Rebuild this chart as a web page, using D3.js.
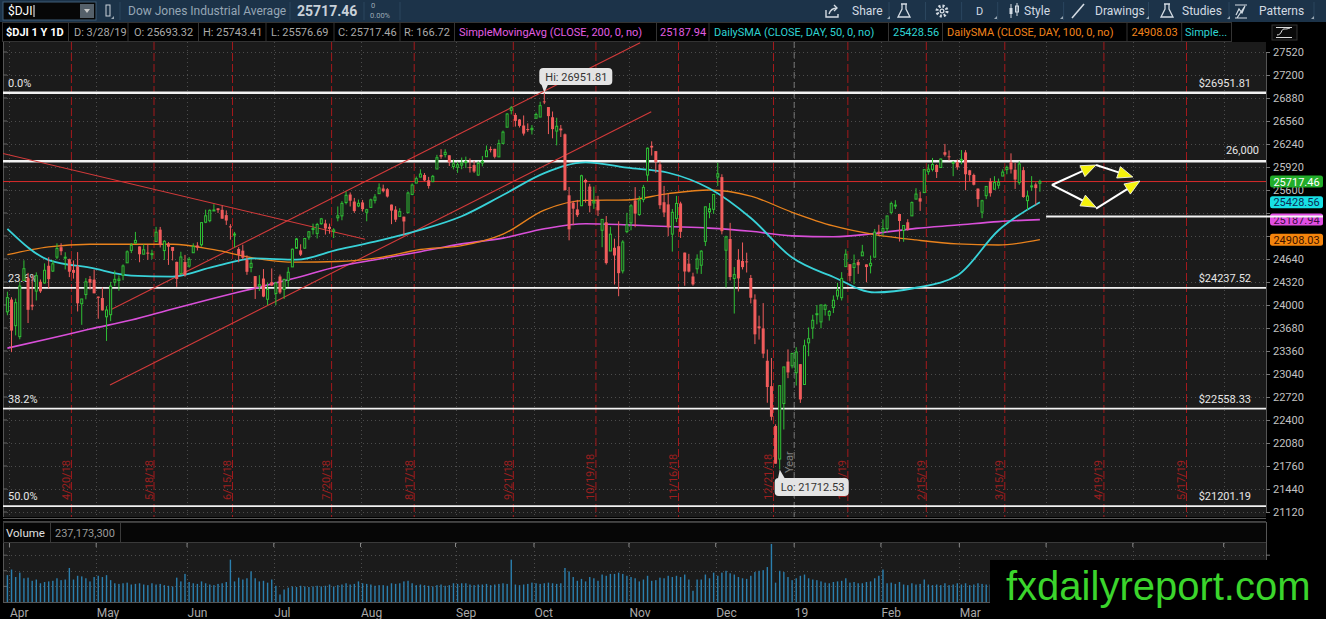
<!DOCTYPE html>
<html>
<head>
  <meta charset="UTF-8">
  <style>
    body { margin: 0; background: #000; }
    svg { display: block; font-family: Roboto, "Open Sans", sans-serif; }
  </style>
</head>
<body>
<svg id="chart" width="1326" height="619"></svg>
<script src="https://d3js.org/d3.v7.min.js"></script>
<script>

// daily bars, first one is 3/29/18, last one 3/28/19 : [open, high, low, close]
const candles = [
  [23905,24185,23858,24103],
  // Apr
  [24076,24108,23344,23644],[23712,24090,23577,24033],[23560,24323,23523,24264],[24342,24622,24342,24505],
  [24371,24447,23749,23933],[24003,24406,23928,23979],[24193,24454,24063,24408],[24323,24355,24168,24190],
  [24307,24579,24298,24483],[24546,24665,24231,24360],[24472,24625,24460,24573],[24666,24858,24637,24787],
  [24804,24859,24693,24748],[24653,24734,24495,24665],[24637,24645,24388,24463],[24488,24619,24367,24448],
  [24539,24736,23910,24024],[24018,24085,23724,24084],[24145,24374,24079,24323],[24361,24403,24216,24311],
  [24353,24491,24163,24163],
  // May
  [24117,24117,23809,24099],[24097,24243,23922,23925],[23836,23984,23500,23930],[23865,24322,23775,24263],
  [24317,24479,24263,24357],[24341,24412,24198,24361],[24414,24565,24345,24543],[24587,24760,24587,24740],
  [24760,24862,24722,24831],[24865,25017,24851,24899],[24815,24815,24595,24706],[24707,24844,24707,24768],
  [24729,24849,24629,24714],[24707,24769,24638,24715],[24883,25087,24883,25013],[25048,25086,24801,24834],
  [24757,24903,24626,24886],[24855,24875,24558,24811],[24807,24807,24620,24753],[24600,24603,24252,24362],
  [24437,24741,24437,24668],[24598,24697,24394,24416],
  // Jun
  [24542,24667,24520,24635],[24727,24858,24727,24813],[24828,24874,24758,24799],[24838,25147,24813,25146],
  [25152,25326,25139,25241],[25173,25331,25151,25317],[25318,25402,25317,25322],[25345,25346,25281,25320],
  [25324,25382,25200,25201],[25250,25316,25114,25175],[25094,25125,24910,25090],[24985,25017,24802,24987],
  [24780,24805,24595,24700],[24756,24839,24636,24657],[24627,24692,24420,24462],[24522,24635,24455,24580],
  [24402,24402,24084,24252],[24262,24415,24194,24283],[24368,24500,24108,24117],[24080,24310,23997,24216],
  [24318,24509,24263,24271],
  // Jul
  [24161,24323,23997,24307],[24397,24424,24152,24174],[24217,24366,24085,24356],[24341,24526,24252,24456],
  [24530,24786,24530,24776],[24789,24933,24789,24919],[24760,24845,24681,24700],[24791,24933,24780,24925],
  [24946,25027,24908,25019],[25059,25132,24981,25064],[24996,25143,24926,25120],[25131,25211,25117,25199],
  [25135,25186,24980,25064],[25088,25132,24992,25058],[25024,25069,24932,25044],[25213,25371,25164,25241],
  [25240,25445,25179,25414],[25426,25580,25400,25527],[25537,25566,25371,25451],[25439,25490,25282,25307],
  [25378,25467,25361,25415],
  // Aug
  [25426,25462,25300,25333],[25290,25339,25165,25326],[25358,25480,25354,25463],[25456,25543,25413,25502],
  [25549,25692,25548,25629],[25621,25675,25566,25583],[25611,25627,25495,25509],[25397,25397,25125,25313],
  [25327,25375,25154,25187],[25233,25347,25228,25299],[25229,25229,24965,25162],[25283,25580,25283,25558],
  [25538,25692,25528,25669],[25696,25787,25696,25758],[25780,25888,25778,25822],[25809,25836,25723,25733],
  [25735,25783,25620,25656],[25716,25810,25716,25790],[25892,26089,25892,26049],[26087,26168,26034,26064],
  [26093,26167,26053,26124],[26083,26083,25934,25986],[25926,26023,25887,25964],
  // Sep
  [25916,25993,25838,25952],[25946,26052,25889,25974],[25988,26064,25905,25995],[25919,26039,25843,25916],
  [25947,26006,25838,25857],[25808,25999,25797,25971],[25975,26073,25929,25998],[26063,26219,26063,26145],
  [26169,26205,26123,26154],[26173,26173,26040,26062],[26061,26300,26061,26246],[26249,26427,26236,26405],
  [26474,26671,26474,26657],[26708,26769,26652,26743],[26644,26669,26483,26562],[26581,26588,26469,26492],
  [26497,26637,26357,26385],[26448,26527,26409,26440],[26439,26503,26372,26458],
  // Oct
  [26598,26677,26598,26651],[26615,26828,26615,26774],[26833,26951.81,26795,26828],[26754,26754,26378,26628],
  [26612,26692,26319,26447],[26420,26605,26221,26487],[26455,26505,26337,26430],[26375,26386,25589,25599],
  [25526,25642,24900,25053],[25422,25450,25110,25340],[25330,25462,25224,25250],[25381,25812,25381,25798],
  [25739,25758,25423,25706],[25648,25685,25290,25380],[25420,25647,25337,25444],[25464,25519,25238,25317],
  [25040,25170,24804,25191],[25151,25238,24563,24583],[24751,25089,24751,24985],[24796,24923,24285,24689],
  [24818,25165,24122,24443],[24475,24902,24439,24875],[25021,25283,24999,25116],
  // Nov
  [25142,25403,25040,25380],[25455,25640,25082,25271],[25259,25515,25239,25462],[25469,25671,25430,25636],
  [25808,26192,25718,26181],[26214,26277,26080,26191],[26141,26141,25838,25989],[25957,25996,25337,25388],
  [25430,25657,25223,25287],[25400,25551,24957,25081],[24986,25336,24743,25289],[25205,25518,25153,25413],
  [25413,25437,24933,25018],[24729,24729,24268,24466],[24575,24711,24453,24465],[24397,24449,24268,24286],
  [24504,24705,24436,24640],[24553,24763,24432,24749],[24885,25367,24820,25366],[25296,25419,25207,25339],
  [25331,25544,25268,25538],
  // Dec
  [25780,25980,25656,25826],[25779,25819,24983,25027],[24762,24964,24243,24947],[24918,25143,24342,24389],
  [24369,24528,23881,24423],[24629,24777,24188,24370],[24613,24870,24495,24527],[24607,24728,24452,24597],
  [24376,24418,24022,24101],[24077,24148,23456,23592],[23703,23852,23519,23676],[23675,24026,23261,23324],
  [23224,23381,22640,22859],[22871,23263,22397,22445],[22317,22340,21792,21792],[21857,22879,21712.53,22878],
  [22629,23139,22268,23138],[23213,23382,22982,23062],[23154,23333,23118,23327],
  // Jan
  [23058,23413,22879,23346],[23177,23177,22638,22686],[22894,23518,22894,23433],[23474,23687,23287,23531],
  [23680,23864,23529,23787],[23878,24000,23731,23879],[23765,24002,23676,24001],[23940,24016,23853,23996],
  [23857,23930,23783,23910],[23966,24133,23888,24066],[24125,24309,24073,24207],[24102,24457,24063,24370],
  [24534,24775,24534,24706],[24568,24568,24327,24404],[24522,24702,24288,24575],[24597,24633,24433,24553],
  [24684,24837,24684,24737],[24565,24565,24316,24528],[24546,24688,24440,24580],[24666,25057,24666,25014],
  [25021,25116,24957,24999],
  // Feb
  [25025,25191,24966,25064],[25062,25240,25006,25239],[25289,25439,25261,25411],[25387,25458,25335,25390],
  [25266,25266,24883,25169],[25036,25107,24880,25106],[25151,25194,25033,25053],[25240,25441,25240,25425],
  [25473,25625,25473,25543],[25485,25577,25309,25439],[25564,25883,25564,25883],[25855,25957,25812,25891],
  [25887,26046,25859,25954],[25948,25958,25767,25850],[25913,26039,25913,26031],[26126,26241,26066,26091],
  [26069,26150,26011,26057],[25972,26000,25792,25985],[25989,26023,25881,25916],
  // Mar
  [26020,26156,25958,26026],[26123,26155,25597,25819],[25874,25880,25722,25807],[25809,25828,25664,25673],
  [25620,25620,25365,25473],[25292,25464,25208,25450],[25521,25653,25473,25650],[25721,25764,25508,25555],
  [25611,25792,25611,25703],[25666,25759,25619,25709],[25794,25888,25794,25849],[25884,25940,25819,25914],
  [25986,26110,25829,25887],[25882,25977,25615,25745],[25702,25999,25672,25962],[25876,25922,25493,25502],
  [25452,25586,25323,25516],[25650,25793,25589,25657],[25678,25704,25388,25626],[25693.32,25743.41,25576.69,25717.46]
];

// daily volume in millions, same bars
const volumes = [
  430,
  520,400,470,380,390,340,360,300,320,330,340,380,350,360,545,360,420,410,380,330,400,
  420,400,430,350,300,290,300,310,280,290,300,280,270,300,280,290,270,260,250,390,330,450,
  320,300,290,330,300,280,270,290,300,320,678,330,390,360,380,491,380,330,340,310,360,
  260,120,200,230,250,240,260,250,240,250,260,250,260,280,250,270,280,300,280,290,330,
  300,290,280,260,270,270,260,300,290,300,330,340,300,270,280,270,260,250,270,280,260,270,300,
  290,300,300,280,270,280,280,290,270,280,290,300,290,678,280,270,280,290,310,
  300,290,300,310,300,290,300,545,490,400,340,370,330,400,380,340,440,420,450,450,470,450,420,
  400,380,330,360,420,340,350,390,380,420,400,420,400,440,360,180,360,360,440,380,470,
  420,470,500,460,440,400,380,370,420,480,500,510,560,930,310,500,480,400,350,
  380,420,440,380,360,350,330,310,300,320,330,340,380,310,320,300,300,320,330,380,420,
  520,300,310,290,320,280,270,300,280,290,360,280,270,280,270,300,270,280,300,
  280,300,270,280,300,290,280,280,290,270,520,280,300,310,290,330,280,260,270,237.17
];

// moving averages read every 10 bars
const smaBars = [0,10,20,30,40,50,60,70,80,90,100,110,120,130,140,150,160,170,180,190,200,210,220,230,240,250];
const sma50  = [25060,24625,24520,24410,24395,24535,24648,24630,24770,24895,25044,25235,25530,25835,25985,25910,25840,25620,25210,24660,24390,24175,24240,24410,25040,25428.56];
const sma100 = [24700,24810,24845,24845,24845,24770,24650,24596,24605,24660,24772,24825,24985,25320,25455,25461,25550,25600,25515,25290,25100,24980,24905,24850,24835,24908.03];
const sma200 = [23400,23530,23665,23790,23945,24095,24235,24380,24535,24640,24742,24850,24930,25060,25130,25115,25092,25070,25025,24962,24950,24995,25066,25112,25160,25187.94];

const monthLabels = ["Apr","May","Jun","Jul","Aug","Sep","Oct","Nov","Dec","19","Feb","Mar","Apr","May","Jun"];
const monthBars   = [1,22,44,65,86,109,128,151,172,191,212,231,252,273,295];
const expiryLabels = ["4/20/18","5/18/18","6/15/18","7/20/18","8/17/18","9/21/18","10/19/18","11/16/18","12/21/18","1/18/19","2/15/19","3/15/19","4/19/19","5/17/19"];
const expiryBars   = [15,35,54,78,98,122,142,162,185,203,222,241,265,285];
const yearBar = 191;

const priceTicks = [21120,21440,21760,22080,22400,22720,23040,23360,23680,24000,24320,24640,24960,25280,25600,25920,26240,26560,26880,27200,27520];
const volTicks = [250,500,750];

const fibLevels = [26951.81, 24237.52, 22558.33, 21201.19];
const fibNames  = ["0.0%","23.6%","38.2%","50.0%"];
const levelLine = 26000;
const shortLine = 25230;

// hand drawn lines: [bar1, price1, bar2, price2]
const trendLines = [
  [-1.07, 26108, 86.6, 24914],
  [25.25, 23940, 153.2, 27648],
  [24.84, 22887, 155.9, 26689]
];
// arrows: [from bar, from price, to bar, to price]
const arrows = [
  [252.9, 25670, 263.6, 25948],
  [252.9, 25670, 263.6, 25360],
  [263.6, 25948, 272.5, 25781],
  [263.6, 25340, 274.2, 25725]
];

// ---------------------------------------------------------------

const svg = d3.select("#chart");
const plotL = 3, plotR = 1266, plotT = 42, plotB = 517;
const volT = 543, volB = 602;

const x = d3.scaleLinear().domain([0, 250]).range([7.4, 1039.9]);
const barW = x(1) - x(0);
const y = d3.scaleLinear().domain([21120, 27520]).range([512, 52]);
const yv = d3.scaleLinear().domain([0, 945]).range([volB, volT]);

const colUp = "#2fbf35", colDn = "#f05c5c", plotBg = "#1b1b1b";

svg.append("rect").attr("width", 1326).attr("height", 619).attr("fill", "#000");

// ---- top tool bar
const tb = svg.append("g");
tb.append("rect").attr("width", 1326).attr("height", 22).attr("fill", "#1c3349");
tb.append("rect").attr("x", 3).attr("y", 2).attr("width", 93).attr("height", 18).attr("fill", "#070707").attr("stroke", "#3f5d77");
tb.append("rect").attr("x", 80).attr("y", 4).attr("width", 14).attr("height", 14).attr("fill", "#55606a");
tb.append("path").attr("d", "M84,9 h6 l-3,4 z").attr("fill", "#c8c8c8");
tb.append("text").attr("x", 8).attr("y", 15).attr("fill", "#fff").attr("font-size", 12).text("$DJI");
tb.append("line").attr("x1", 34).attr("x2", 34).attr("y1", 5).attr("y2", 17).attr("stroke", "#fff");
tb.append("rect").attr("x", 106).attr("y", 5).attr("width", 4).attr("height", 11).attr("fill", "none").attr("stroke", "#c9d2da");
tb.append("path").attr("d", "M111,19 h3 v-3 z").attr("fill", "#9aa8b4");
tb.append("text").attr("x", 128).attr("y", 15).attr("fill", "#96a6b5").attr("font-size", 12).text("Dow Jones Industrial Average");
tb.append("text").attr("x", 297).attr("y", 16).attr("fill", "#c9d1d9").attr("font-size", 14).attr("font-weight", "bold").text("25717.46");
tb.append("text").attr("x", 371).attr("y", 8).attr("fill", "#9aa8b4").attr("font-size", 7.5).text("0");
tb.append("text").attr("x", 370).attr("y", 18).attr("fill", "#9aa8b4").attr("font-size", 7.5).text("0.00%");
[120, 290, 364, 400].forEach(v => tb.append("line").attr("x1", v).attr("x2", v).attr("y1", 2).attr("y2", 20).attr("stroke", "#2b465e"));

const tbText = "#d3dbe3";
// share
tb.append("path").attr("d", "M826,10 v7 h12 v-3 M829,14 q2,-6 8,-6 M834,5 l3,3 l-3,3").attr("fill", "none").attr("stroke", tbText).attr("stroke-width", 1.4);
tb.append("text").attr("x", 852).attr("y", 15).attr("fill", tbText).attr("font-size", 12).text("Share");
// flask
const flask = cx => `M${cx - 3},4 h6 M${cx - 2},4 v5 l-4,8 h12 l-4,-8 v-5`;
tb.append("path").attr("d", flask(904)).attr("fill", "none").attr("stroke", tbText).attr("stroke-width", 1.3);
// gear
tb.append("circle").attr("cx", 942).attr("cy", 11).attr("r", 5).attr("fill", "none").attr("stroke", tbText).attr("stroke-width", 3).attr("stroke-dasharray", "2,1.9");
tb.append("circle").attr("cx", 942).attr("cy", 11).attr("r", 2.5).attr("fill", tbText);
tb.append("circle").attr("cx", 942).attr("cy", 11).attr("r", 1.2).attr("fill", "#1c3349");
tb.append("text").attr("x", 976).attr("y", 15).attr("fill", tbText).attr("font-size", 11).text("D");
// style
tb.append("path").attr("d", "M1011,4 v14 M1017,3 v13").attr("stroke", tbText).attr("stroke-width", 1);
tb.append("rect").attr("x", 1009.5).attr("y", 8).attr("width", 3).attr("height", 6).attr("fill", tbText);
tb.append("rect").attr("x", 1015.5).attr("y", 6).attr("width", 3).attr("height", 6).attr("fill", "none").attr("stroke", tbText);
tb.append("text").attr("x", 1024).attr("y", 15).attr("fill", tbText).attr("font-size", 12).text("Style");
// drawings
tb.append("line").attr("x1", 1072).attr("y1", 18).attr("x2", 1084).attr("y2", 4).attr("stroke", tbText).attr("stroke-width", 1.6);
tb.append("text").attr("x", 1095).attr("y", 15).attr("fill", tbText).attr("font-size", 12).text("Drawings");
// studies
tb.append("path").attr("d", flask(1167)).attr("fill", "none").attr("stroke", tbText).attr("stroke-width", 1.3);
tb.append("text").attr("x", 1182).attr("y", 15).attr("fill", tbText).attr("font-size", 12).text("Studies");
// patterns
tb.append("path").attr("d", "M1235,5 h12 M1235,18 h12 M1236,15 l3,-6 l3,4 l3,-7 M1237,18 l8,-12").attr("fill", "none").attr("stroke", tbText).attr("stroke-width", 1.2);
tb.append("text").attr("x", 1259).attr("y", 15).attr("fill", tbText).attr("font-size", 12).text("Patterns");
[889, 925.5, 961.6, 997.7, 1063.6, 1148.5, 1229, 1314].forEach(v =>
  tb.append("line").attr("x1", v).attr("x2", v).attr("y1", 2).attr("y2", 20).attr("stroke", "#2b465e"));
[887, 994, 1060, 1146, 1227, 1311].forEach(v =>
  tb.append("path").attr("d", `M${v},19 h3 v-3 z`).attr("fill", "#9aa8b4"));

// ---- study header row
const hr = svg.append("g");
hr.append("rect").attr("x", 0).attr("y", 22).attr("width", 1326).attr("height", 20).attr("fill", "#000");
hr.append("rect").attr("x", 2.5).attr("y", 22.5).attr("width", 1229).attr("height", 19).attr("fill", "none").attr("stroke", "#333");
const cells = [
  [6, "$DJI 1 Y 1D", "#fff", true],
  [74, "D: 3/28/19", "#a9a9a9"],
  [134, "O: 25693.32", "#a9a9a9"],
  [203, "H: 25743.41", "#a9a9a9"],
  [271, "L: 25576.69", "#a9a9a9"],
  [338, "C: 25717.46", "#a9a9a9"],
  [404, "R: 166.72", "#a9a9a9"],
  [459, "SimpleMovingAvg (CLOSE, 200, 0, no)", "#e25ee2"],
  [660, "25187.94", "#e25ee2"],
  [714, "DailySMA (CLOSE, DAY, 50, 0, no)", "#2fd3d3"],
  [893, "25428.56", "#2fd3d3"],
  [947, "DailySMA (CLOSE, DAY, 100, 0, no)", "#f0841c"],
  [1131.5, "24908.03", "#f0841c"],
  [1185, "Simple...", "#2fd3d3"]
];
cells.forEach(c => hr.append("text").attr("x", c[0]).attr("y", 36).attr("fill", c[2])
  .attr("font-size", 11).attr("font-weight", c[3] ? "bold" : null).text(c[1]));
[68.5, 128, 198.5, 266, 334, 400, 454.5, 656.5, 709, 888.5, 942.5, 1127, 1181.7].forEach(v =>
  hr.append("line").attr("x1", v).attr("x2", v).attr("y1", 23).attr("y2", 41).attr("stroke", "#333"));
hr.append("rect").attr("x", 1272).attr("y", 25).attr("width", 25).attr("height", 15).attr("fill", "#0a0a0a").attr("stroke", "#333");
hr.append("path").attr("d", "M1276,27.5 h16 M1276,37.5 h16 M1277,35 c5,0 4,-6 7,-6 s3,0 6,-1").attr("fill", "none").attr("stroke", "#ddd").attr("stroke-width", 1);

// ---- price pane
const pane = svg.append("g");
pane.append("rect").attr("x", plotL).attr("y", plotT).attr("width", plotR - plotL).attr("height", plotB - plotT).attr("fill", plotBg);
svg.append("defs").append("clipPath").attr("id", "clip")
  .append("rect").attr("x", plotL).attr("y", plotT).attr("width", plotR - plotL).attr("height", plotB - plotT);

// grid
const grid = pane.append("g").attr("stroke", "#4c4c4c").attr("stroke-dasharray", "1,3").attr("shape-rendering", "crispEdges");
grid.selectAll(".hg").data(priceTicks).join("line")
  .attr("x1", plotL).attr("x2", plotR).attr("y1", d => Math.round(y(d)) + 0.5).attr("y2", d => Math.round(y(d)) + 0.5);
grid.selectAll(".vg").data(monthBars).join("line")
  .attr("x1", d => Math.round(x(d) - barW / 2) + 0.5).attr("x2", d => Math.round(x(d) - barW / 2) + 0.5)
  .attr("y1", plotT).attr("y2", plotB);
// left edge ticks
pane.append("line").attr("x1", plotL + 0.5).attr("x2", plotL + 0.5).attr("y1", plotT).attr("y2", plotB).attr("stroke", "#555");
pane.selectAll(".lt").data(priceTicks).join("line")
  .attr("x1", plotL).attr("x2", plotL + 4).attr("y1", d => y(d)).attr("y2", d => y(d)).attr("stroke", "#666");

// expiration lines
const exp = pane.append("g");
exp.selectAll("line").data(expiryBars).join("line")
  .attr("x1", d => x(d) + barW / 2).attr("x2", d => x(d) + barW / 2)
  .attr("y1", plotT).attr("y2", plotB)
  .attr("stroke", "#a3191c").attr("stroke-dasharray", "8,3");
exp.selectAll("text").data(expiryBars).join("text")
  .attr("transform", d => `translate(${x(d) + barW / 2 - 1.5},500) rotate(-90)`)
  .attr("fill", "#9c1f1f").attr("font-size", 11)
  .text((d, i) => expiryLabels[i]);

// year line
const yx = x(yearBar) - barW / 2;
pane.append("line").attr("x1", yx).attr("x2", yx).attr("y1", plotT).attr("y2", plotB)
  .attr("stroke", "#777").attr("stroke-dasharray", "6,4");
pane.append("text").attr("transform", `translate(${yx - 1.5},473) rotate(-90)`)
  .attr("fill", "#7d7d7d").attr("font-size", 11).text("Year");

// fib + level lines
const lv = pane.append("g");
fibLevels.forEach((p, i) => {
  lv.append("line").attr("x1", plotL).attr("x2", plotR).attr("y1", y(p)).attr("y2", y(p))
    .attr("stroke", "#f2f2f2").attr("stroke-width", i === 0 ? 2.5 : 1.8);
  lv.append("text").attr("x", 8).attr("y", y(p) - 6).attr("fill", "#e6e6e6").attr("font-size", 11).text(fibNames[i]);
  lv.append("text").attr("x", 1251).attr("y", y(p) - 6).attr("text-anchor", "end")
    .attr("fill", "#e6e6e6").attr("font-size", 11).text("$" + d3.format(".2f")(p));
});
lv.append("line").attr("x1", plotL).attr("x2", plotR).attr("y1", y(levelLine)).attr("y2", y(levelLine))
  .attr("stroke", "#f2f2f2").attr("stroke-width", 2.5);
lv.append("text").attr("x", 1259).attr("y", y(levelLine) - 7).attr("text-anchor", "end")
  .attr("fill", "#e6e6e6").attr("font-size", 11).text(d3.format(",")(levelLine));
const last = candles[candles.length - 1];
lv.append("line").attr("x1", plotL).attr("x2", plotR).attr("y1", y(last[3])).attr("y2", y(last[3]))
  .attr("stroke", "#d92b2b").attr("stroke-width", 1);

// trend lines and moving averages
const cg = pane.append("g").attr("clip-path", "url(#clip)");
cg.selectAll(".tl").data(trendLines).join("line")
  .attr("x1", d => x(d[0])).attr("y1", d => y(d[1])).attr("x2", d => x(d[2])).attr("y2", d => y(d[3]))
  .attr("stroke", "#d23a3a").attr("stroke-width", 1.1);

const maLine = vals => d3.line().curve(d3.curveMonotoneX)
  .x((d, i) => x(smaBars[i])).y(d => y(d))(vals);
cg.append("path").attr("d", maLine(sma200)).attr("fill", "none").attr("stroke", "#d94fd9").attr("stroke-width", 1.6);
cg.append("path").attr("d", maLine(sma100)).attr("fill", "none").attr("stroke", "#e9821c").attr("stroke-width", 1.3);
cg.append("path").attr("d", maLine(sma50)).attr("fill", "none").attr("stroke", "#38d2d8").attr("stroke-width", 1.8);

// candles
const cs = cg.append("g").selectAll("g").data(candles).join("g");
cs.append("line")
  .attr("x1", (d, i) => x(i)).attr("x2", (d, i) => x(i))
  .attr("y1", d => y(d[1])).attr("y2", d => y(d[2]))
  .attr("stroke", d => d[3] >= d[0] ? colUp : colDn).attr("stroke-width", 1);
cs.append("rect")
  .attr("x", (d, i) => d[3] >= d[0] ? x(i) - 1 : x(i) - 1.5)
  .attr("width", d => d[3] >= d[0] ? 2 : 3)
  .attr("y", d => y(Math.max(d[0], d[3])))
  .attr("height", d => Math.max(1, Math.abs(y(d[0]) - y(d[3]))))
  .attr("fill", d => d[3] >= d[0] ? plotBg : colDn)
  .attr("stroke", d => d[3] >= d[0] ? colUp : "none")
  .attr("stroke-width", 1);

// hi / lo bubbles
const hiI = d3.maxIndex(candles, d => d[1]);
const loI = d3.minIndex(candles, d => d[2]);
const hx = x(hiI), hy = y(candles[hiI][1]);
pane.append("path").attr("d", `M${hx - 3},84 L${hx + 4},84 L${hx},${hy}Z`).attr("fill", "#e4e4e4");
pane.append("rect").attr("x", hx - 5).attr("y", 68).attr("width", 73).attr("height", 17).attr("rx", 4).attr("fill", "#e4e4e4");
pane.append("text").attr("x", hx + 1).attr("y", 80.5).attr("fill", "#333").attr("font-size", 11)
  .text("Hi: " + d3.format(".2f")(candles[hiI][1]));
const lx = x(loI), ly = y(candles[loI][2]);
pane.append("path").attr("d", `M${lx - 2},480 L${lx + 6},480 L${lx},${ly}Z`).attr("fill", "#e4e4e4");
pane.append("rect").attr("x", lx - 5).attr("y", 478).attr("width", 74).attr("height", 18).attr("rx", 4).attr("fill", "#e4e4e4");
pane.append("text").attr("x", lx + 1).attr("y", 491).attr("fill", "#333").attr("font-size", 11)
  .text("Lo: " + d3.format(".2f")(candles[loI][2]));

// arrows
const ag = pane.append("g");
arrows.forEach(a => {
  const x1 = x(a[0]), y1 = y(a[1]), x2 = x(a[2]), y2 = y(a[3]);
  const ang = Math.atan2(y2 - y1, x2 - x1), L = 15, Wd = 6;
  const bx = x2 - L * Math.cos(ang), by = y2 - L * Math.sin(ang);
  ag.append("line").attr("x1", x1).attr("y1", y1).attr("x2", bx).attr("y2", by)
    .attr("stroke", "#fff").attr("stroke-width", 2);
  const p1 = [bx + Wd * Math.sin(ang), by - Wd * Math.cos(ang)];
  const p2 = [bx - Wd * Math.sin(ang), by + Wd * Math.cos(ang)];
  ag.append("path").attr("d", `M${x2},${y2}L${p1}L${p2}Z`)
    .attr("fill", "#f4f20c").attr("stroke", "#fff").attr("stroke-width", 0.8);
});

// ---- right price axis
const badges = [
  [last[3], "#22ad2a", "#fff"],
  [sma50[sma50.length - 1], "#17e0e4", "#0b2b55"],
  [sma200[sma200.length - 1], "#e24ee2", "#3a0d40"],
  [sma100[sma100.length - 1], "#f5850c", "#3c1200"]
];
svg.append("rect").attr("x", plotR + 1).attr("y", plotT).attr("width", 1326 - plotR).attr("height", plotB - plotT).attr("fill", "#000");
const ya = svg.append("g").attr("transform", `translate(${plotR},0)`)
  .call(d3.axisRight(y).tickValues(priceTicks).tickSize(4).tickPadding(3).tickFormat(d3.format("d")));
ya.select(".domain").attr("stroke", "#555");
ya.selectAll(".tick line").attr("stroke", "#777");
ya.selectAll(".tick text").attr("fill", "#c2c2c2").attr("font-size", 11).attr("font-family", "Roboto");
// labels sitting under a price bubble are hidden, like the platform does
ya.selectAll(".tick text").filter(d => badges.some(b => Math.abs(y(d) - y(b[0])) < 7)).remove();

badges.forEach(b => {
  svg.append("rect").attr("x", 1270).attr("y", y(b[0]) - 6).attr("width", 53).attr("height", 12).attr("rx", 2.5).attr("fill", b[1]);
  svg.append("text").attr("x", 1296.5).attr("y", y(b[0]) + 4).attr("text-anchor", "middle")
    .attr("fill", b[2]).attr("font-size", 11).text(d3.format(".2f")(b[0]));
});

// short level line at right (drawn across the axis as in the platform)
svg.append("line").attr("x1", x(251.5)).attr("x2", 1323).attr("y1", y(shortLine)).attr("y2", y(shortLine))
  .attr("stroke", "#f4f4f4").attr("stroke-width", 2);

// pane separator
svg.append("line").attr("x1", plotL).attr("x2", plotR).attr("y1", plotB + 1.5).attr("y2", plotB + 1.5).attr("stroke", "#555");
svg.append("line").attr("x1", plotL).attr("x2", plotR).attr("y1", 521.5).attr("y2", 521.5).attr("stroke", "#444");

// ---- volume pane
const vp = svg.append("g");
vp.append("rect").attr("x", plotL + 0.5).attr("y", 522.5).attr("width", plotR - plotL).attr("height", 20).attr("fill", "#060606").attr("stroke", "#3a3a3a");
vp.append("text").attr("x", 6).attr("y", 537).attr("fill", "#e0e0e0").attr("font-size", 11.5).text("Volume");
vp.append("line").attr("x1", 50.5).attr("x2", 50.5).attr("y1", 523).attr("y2", 542).attr("stroke", "#3a3a3a");
vp.append("text").attr("x", 55).attr("y", 537).attr("fill", "#9a9a9a").attr("font-size", 11).text(d3.format(",")(237173300));
vp.append("line").attr("x1", 120.5).attr("x2", 120.5).attr("y1", 523).attr("y2", 542).attr("stroke", "#3a3a3a");

vp.append("rect").attr("x", plotL).attr("y", volT).attr("width", plotR - plotL).attr("height", volB - volT).attr("fill", plotBg);
const vg = vp.append("g").attr("stroke", "#4c4c4c").attr("stroke-dasharray", "1,3").attr("shape-rendering", "crispEdges");
vg.selectAll(".h").data(volTicks).join("line")
  .attr("x1", plotL).attr("x2", plotR).attr("y1", d => Math.round(yv(d)) + 0.5).attr("y2", d => Math.round(yv(d)) + 0.5);
vg.selectAll(".v").data(monthBars).join("line")
  .attr("x1", d => Math.round(x(d) - barW / 2) + 0.5).attr("x2", d => Math.round(x(d) - barW / 2) + 0.5)
  .attr("y1", volT).attr("y2", volB);
vp.selectAll(".tk").data(monthBars).join("line")
  .attr("x1", d => x(d) - barW / 2).attr("x2", d => x(d) - barW / 2)
  .attr("y1", volT).attr("y2", volT + 4).attr("stroke", "#888");
vp.append("line").attr("x1", plotL + 0.5).attr("x2", plotL + 0.5).attr("y1", volT).attr("y2", volB).attr("stroke", "#555");
vp.selectAll(".lt").data(volTicks).join("line")
  .attr("x1", plotL).attr("x2", plotL + 4).attr("y1", d => yv(d)).attr("y2", d => yv(d)).attr("stroke", "#666");
vp.append("g").selectAll("rect").data(volumes).join("rect")
  .attr("x", (d, i) => x(i) - 0.7).attr("width", 1.4)
  .attr("y", d => yv(d)).attr("height", d => volB - yv(d))
  .attr("fill", "#2b7fae");
vp.append("line").attr("x1", plotL).attr("x2", plotR).attr("y1", volB + 0.5).attr("y2", volB + 0.5).attr("stroke", "#555");
vp.append("line").attr("x1", plotR + 0.5).attr("x2", plotR + 0.5).attr("y1", 522).attr("y2", volB).attr("stroke", "#555");
vp.selectAll(".rt").data(volTicks).join("line")
  .attr("x1", plotR).attr("x2", plotR + 4).attr("y1", d => yv(d)).attr("y2", d => yv(d)).attr("stroke", "#777");

// ---- month axis
const xa = svg.append("g").attr("transform", `translate(${-barW / 2},${volB})`)
  .call(d3.axisBottom(x).tickValues(monthBars).tickSize(0).tickPadding(5)
    .tickFormat((d, i) => monthLabels[i]));
xa.select(".domain").remove();
xa.selectAll(".tick text").attr("text-anchor", "start").attr("fill", "#a9a9a9")
  .attr("font-size", 12).attr("font-family", "Roboto").attr("dy", "0.85em");

// ---- watermark
svg.append("rect").attr("x", 990).attr("y", 560).attr("width", 336).attr("height", 59).attr("fill", "#000");
svg.append("text").attr("x", 1006).attr("y", 600).attr("fill", "#3bd52c")
  .attr("font-family", "'Liberation Sans', Arial, sans-serif").attr("font-size", 40)
  .text("fxdailyreport.com");

</script>
</body>
</html>
